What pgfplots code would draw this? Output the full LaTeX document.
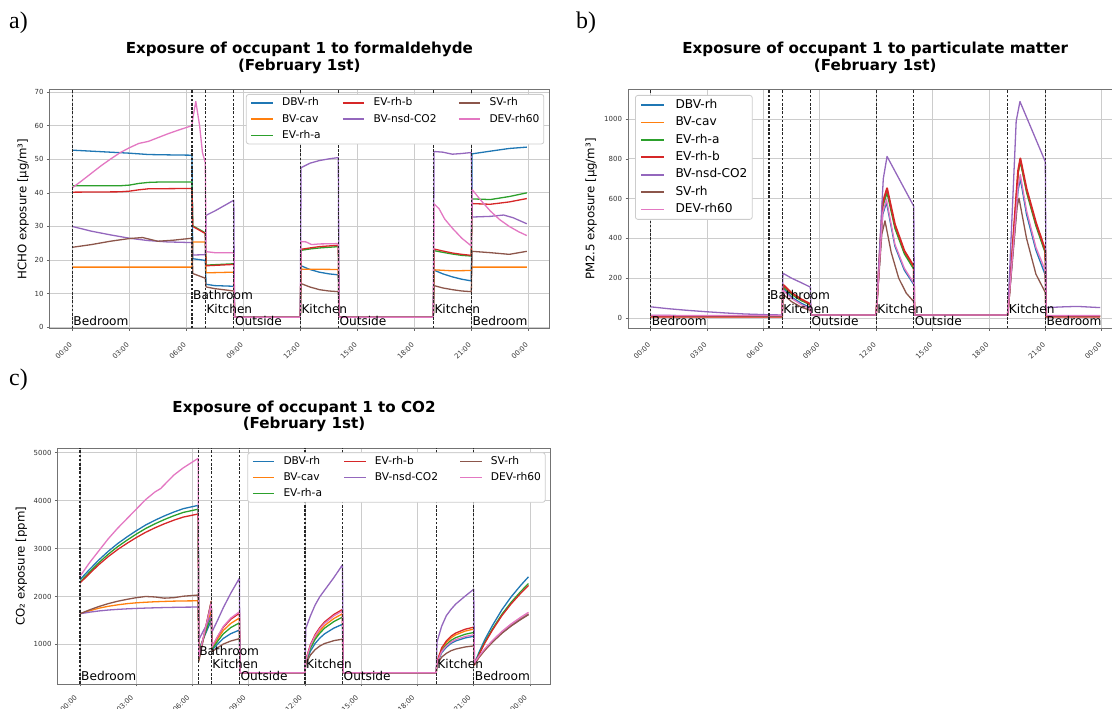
\documentclass[border=0pt]{standalone}
\usepackage{fontspec}
\setmainfont{DejaVu Sans}
\newfontfamily\serifpanel{Liberation Serif}
\usepackage{pgfplots}
\pgfplotsset{compat=1.18}

\definecolor{cA}{HTML}{1F77B4}
\definecolor{cB}{HTML}{FF7F0E}
\definecolor{cC}{HTML}{2CA02C}
\definecolor{cD}{HTML}{D62728}
\definecolor{cE}{HTML}{9467BD}
\definecolor{cF}{HTML}{8C564B}
\definecolor{cG}{HTML}{E377C2}

\tikzset{lab/.style={anchor=base west, inner sep=0pt, xshift=1bp, font=\fontsize{12.2}{13}\selectfont},
         vline/.style={black!85, line width=1.1bp, dash pattern=on 2.6bp off 1.6bp}}

\pgfplotsset{
  expo/.style={
    scale only axis,
    xmin=-1.2, xmax=25.1,
    xtick={0,3,...,24},
    xticklabels={00:00,03:00,06:00,09:00,12:00,15:00,18:00,21:00,00:00},
    tick pos=left,
    tick align=outside,
    major tick length=2.5bp,
    major tick style={black!60, line width=0.6bp},
    grid=major,
    major grid style={black!20, line width=0.8bp},
    axis line style={black!55, line width=1bp},
    tick label style={font=\fontsize{7}{8}\selectfont, text=black!80},
    /pgf/number format/assume math mode=true,
    /pgf/number format/1000 sep={},
    xticklabel style={yshift=-10.7bp, xshift=1bp, rotate=45, anchor=east},
    title style={font=\bfseries\fontsize{15.2}{16.8}\selectfont, align=center, anchor=south, inner sep=0pt, yshift=10bp},
    ylabel style={font=\fontsize{11.8}{13}\selectfont, anchor=center},
    legend image code/.code={\draw[#1] (0bp,0bp) -- (21.4bp,0bp);},
    every axis plot/.append style={line width=1.3bp, line join=round},
    clip=true,
  },
  leg3/.style={
    legend columns=3,
    legend cell align=left,
    legend style={at={(1,1)}, anchor=north east, xshift=-5bp, yshift=-4bp,
      font=\fontsize{10.7}{12}\selectfont, draw=black!20, line width=0.8bp,
      rounded corners=2.5bp, fill=white,
      inner xsep=4.3bp, inner ysep=3.5bp, row sep=6bp,
      nodes={inner sep=0pt, text height=8bp, text depth=2.2bp},
      /tikz/every odd column/.style={column sep=8.6bp},
      /tikz/every even column/.style={column sep=21.4bp}},
  },
}

\begin{document}
\begin{tikzpicture}

% ================= a) HCHO =================
\begin{axis}[expo, leg3, at={(49.5bp,380.7bp)}, anchor=south west,
  width=499.7bp, height=238.3bp,
  ymin=-0.3, ymax=70.6, ytick={0,10,...,70},
  title={Exposure of occupant 1 to formaldehyde\\(February 1st)},
  ylabel={HCHO exposure [µg/m³]},
  ylabel style={at={(axis description cs:-0.0526,0.5)}}]
\addplot[cA, forget plot] coordinates {(0,52.7)(1,52.4)(2,52.1)(3,51.8)(4,51.4)(5,51.3)(6.3,51.2)(6.34,20.4)(7,19.9)(7.04,12.8)(7.5,12.4)(8.5,12.2)(8.54,3)(12,3)(12.04,18.3)(12.5,17.2)(13,16.4)(13.5,15.9)(14,15.6)(14.04,3)(19,3)(19.04,17.0)(19.5,15.9)(20,15.0)(20.5,14.3)(21,13.8)(21.04,51.6)(22,52.4)(23,53.2)(23.92,53.6)};
\addplot[cB, forget plot] coordinates {(0,17.9)(6.3,17.9)(6.34,25.4)(7,25.4)(7.04,16.2)(8.5,16.4)(8.54,3)(12,3)(12.04,17.3)(14,17.2)(14.04,3)(19,3)(19.04,17.1)(20,16.8)(21,16.9)(21.04,17.9)(23.92,17.9)};
\addplot[cC, forget plot] coordinates {(0,42.1)(2.5,42.1)(3,42.3)(3.5,42.8)(4,43.1)(4.5,43.2)(6.3,43.2)(6.34,30.2)(7,28.1)(7.04,18.5)(8.5,18.9)(8.54,3)(12,3)(12.04,22.9)(12.5,23.3)(13,23.6)(13.5,23.8)(14,24.0)(14.04,3)(19,3)(19.04,22.8)(19.5,22.3)(20,21.8)(20.5,21.4)(21,21.2)(21.04,38.2)(22,38.0)(23,38.9)(23.92,40.0)};
\addplot[cD, forget plot] coordinates {(0,40.2)(2.5,40.3)(3,40.5)(3.5,40.9)(4,41.2)(6.3,41.3)(6.34,30.0)(7,27.9)(7.04,18.3)(8.5,18.7)(8.54,3)(12,3)(12.04,23.2)(12.5,23.6)(13,24.0)(13.5,24.2)(14,24.4)(14.04,3)(19,3)(19.04,23.3)(19.5,22.7)(20,22.1)(20.5,21.7)(21,21.4)(21.04,36.8)(22,36.6)(23,37.3)(23.92,38.3)};
\addplot[cE, forget plot] coordinates {(0,30.0)(1,28.6)(2,27.5)(3,26.5)(4,25.8)(5,25.4)(6.3,25.2)(6.34,21.5)(7,21.6)(7.04,33.3)(7.5,34.6)(8,36.2)(8.5,37.8)(8.54,3)(12,3)(12.04,47.5)(12.5,48.8)(13,49.6)(13.5,50.1)(14,50.5)(14.04,3)(19,3)(19.04,52.3)(19.5,52.1)(20,51.5)(20.5,51.7)(21,52.0)(21.04,32.8)(22,33.0)(22.7,33.4)(23.2,32.6)(23.92,30.8)};
\addplot[cF, forget plot] coordinates {(0,23.8)(1,24.6)(2,25.6)(3,26.4)(3.7,26.7)(4.5,25.6)(5.3,25.9)(6.3,26.5)(6.34,16.0)(7,14.6)(7.04,12.0)(7.5,11.5)(8.5,10.8)(8.54,3)(12,3)(12.04,13.0)(12.5,12.0)(13,11.2)(13.5,10.8)(14,10.6)(14.04,3)(19,3)(19.04,12.4)(19.5,11.7)(20,11.2)(20.5,10.8)(21,10.6)(21.04,22.6)(22,22.2)(23,21.7)(23.92,22.6)};
\addplot[cG, forget plot] coordinates {(0,41.5)(0.5,43.6)(1,45.8)(1.5,48.0)(2,50.0)(2.5,51.9)(3,53.4)(3.5,54.7)(4,55.3)(4.5,56.4)(5,57.5)(5.5,58.5)(6.3,60.0)(6.34,62)(6.5,67.2)(6.7,60)(6.85,52)(7,49)(7.04,22.5)(7.5,22.2)(8.5,22.2)(8.54,3)(12,3)(12.04,25.5)(12.3,25.4)(12.6,24.6)(13,24.8)(14,24.9)(14.04,3)(19,3)(19.04,36.7)(19.3,35.3)(19.6,32.2)(20,29.5)(20.5,26.5)(21,24.2)(21.04,41.0)(21.5,37.8)(22,34.6)(22.5,32.0)(23,30.0)(23.5,28.4)(23.92,27.3)};
\pgfplotsinvokeforeach{0,6.3,7,8.5,12,14,19,21}{\addplot[forget plot, vline] coordinates {(#1,-0.3)(#1,70.6)};}
\addlegendimage{draw=cA, line width=1.5bp}\addlegendentry{DBV-rh}
\addlegendimage{draw=cD, line width=1.5bp}\addlegendentry{EV-rh-b}
\addlegendimage{draw=cF, line width=1.5bp}\addlegendentry{SV-rh}
\addlegendimage{draw=cB, line width=1.5bp}\addlegendentry{BV-cav}
\addlegendimage{draw=cE, line width=1.5bp}\addlegendentry{BV-nsd-CO2}
\addlegendimage{draw=cG, line width=1.5bp}\addlegendentry{DEV-rh60}
\addlegendimage{draw=cC, line width=1.5bp}\addlegendentry{EV-rh-a}
\node[lab] at (axis cs:0,0.59) {Bedroom};
\node[lab] at (axis cs:6.3,8.12) {Bathroom};
\node[lab] at (axis cs:7,4.16) {Kitchen};
\node[lab] at (axis cs:8.5,0.59) {Outside};
\node[lab] at (axis cs:12,4.16) {Kitchen};
\node[lab] at (axis cs:14,0.59) {Outside};
\node[lab] at (axis cs:19,4.16) {Kitchen};
\node[lab] at (axis cs:21,0.59) {Bedroom};
\end{axis}

% ================= b) PM2.5 =================
\begin{axis}[expo, at={(628bp,380.7bp)}, anchor=south west,
  width=494.4bp, height=238.3bp,
  ymin=-52, ymax=1146, ytick={0,200,...,1000},
  title={Exposure of occupant 1 to particulate matter\\(February 1st)},
  ylabel={PM2.5 exposure [µg/m³]},
  ylabel style={at={(axis description cs:-0.0748,0.5)}},
  legend image code/.code={\draw[#1] (0bp,0bp) -- (23bp,0bp);},
  legend cell align=left,
  legend style={at={(0,1)}, anchor=north west, xshift=7bp, yshift=-5bp,
      font=\fontsize{12.2}{13}\selectfont, draw=black!20, line width=0.8bp,
      rounded corners=2.5bp, fill=white,
      inner xsep=4.9bp, inner ysep=4bp, row sep=5.8bp,
      nodes={inner sep=0pt, text height=9bp, text depth=2.6bp},
      /tikz/every odd column/.style={column sep=10bp}}]
\addplot[cA, forget plot] coordinates {(0,12)(6.3,10)(7,10)(7.04,150)(7.5,105)(8,75)(8.5,52)(8.54,15)(12,15)(12.35,520)(12.55,580)(13,360)(13.5,240)(14,168)(14.04,15)(19,15)(19.55,640)(19.67,700)(20,520)(20.5,340)(21,215)(21.04,10)(23.92,10)};
\addplot[cB, forget plot] coordinates {(0,6)(6.3,6)(7,6)(7.04,160)(7.5,120)(8,90)(8.5,68)(8.54,15)(12,15)(12.35,570)(12.58,640)(13,460)(13.5,330)(14,252)(14.04,15)(19,15)(19.55,730)(19.67,790)(20,640)(20.5,470)(21,332)(21.04,8)(23.92,8)};
\addplot[cC, forget plot] coordinates {(0,9)(6.3,9)(7,9)(7.04,158)(7.5,118)(8,88)(8.5,66)(8.54,15)(12,15)(12.35,560)(12.58,628)(13,450)(13.5,322)(14,245)(14.04,15)(19,15)(19.55,725)(19.67,785)(20,632)(20.5,462)(21,325)(21.04,9)(23.92,9)};
\addplot[cD, forget plot, line width=1.9bp] coordinates {(0,7)(6.3,7)(7,7)(7.04,168)(7.5,126)(8,95)(8.5,70)(8.54,15)(12,15)(12.35,580)(12.58,652)(13,470)(13.5,338)(14,260)(14.04,15)(19,15)(19.55,740)(19.67,802)(20,650)(20.5,480)(21,340)(21.04,7)(23.92,7)};
\addplot[cE, forget plot] coordinates {(0,56)(1,46)(2,38)(3,31)(4,25)(5,20)(6.3,16)(7,15)(7.04,225)(7.5,200)(8,178)(8.5,155)(8.54,15)(12,15)(12.38,700)(12.58,812)(14,562)(14.04,15)(19,15)(19.45,990)(19.65,1088)(21,785)(21.04,52)(22,56)(22.7,58)(23.92,52)};
\addplot[cF, forget plot] coordinates {(0,11)(6.3,9)(7,9)(7.04,120)(7.5,82)(8,55)(8.5,38)(8.54,15)(12,15)(12.3,420)(12.47,488)(12.8,330)(13.2,200)(13.6,125)(14,82)(14.04,15)(19,15)(19.5,560)(19.6,602)(20,400)(20.5,220)(21,128)(21.04,10)(23.92,10)};
\addplot[cG, forget plot] coordinates {(0,13)(6.3,12)(7,12)(7.04,140)(7.5,98)(8,68)(8.5,46)(8.54,15)(12,15)(12.35,530)(12.55,595)(13,370)(13.5,250)(14,175)(14.04,15)(19,15)(19.55,660)(19.67,720)(20,540)(20.5,355)(21,238)(21.04,12)(23.92,12)};
\pgfplotsinvokeforeach{0,6.3,7,8.5,12,14,19,21}{\addplot[forget plot, vline] coordinates {(#1,-52)(#1,1146)};}
\addlegendimage{draw=cA, line width=1.5bp}\addlegendentry{DBV-rh}
\addlegendimage{draw=cB, line width=1.5bp}\addlegendentry{BV-cav}
\addlegendimage{draw=cC, line width=1.5bp}\addlegendentry{EV-rh-a}
\addlegendimage{draw=cD, line width=2.2bp}\addlegendentry{EV-rh-b}
\addlegendimage{draw=cE, line width=1.5bp}\addlegendentry{BV-nsd-CO2}
\addlegendimage{draw=cF, line width=1.5bp}\addlegendentry{SV-rh}
\addlegendimage{draw=cG, line width=1.5bp}\addlegendentry{DEV-rh60}
\node[lab] at (axis cs:0,-36.9) {Bedroom};
\node[lab] at (axis cs:6.3,90.3) {Bathroom};
\node[lab] at (axis cs:7,23.4) {Kitchen};
\node[lab] at (axis cs:8.5,-36.9) {Outside};
\node[lab] at (axis cs:12,23.4) {Kitchen};
\node[lab] at (axis cs:14,-36.9) {Outside};
\node[lab] at (axis cs:19,23.4) {Kitchen};
\node[lab] at (axis cs:21,-36.9) {Bedroom};
\end{axis}

% ================= c) CO2 =================
\begin{axis}[expo, leg3, at={(57.5bp,25bp)}, anchor=south west,
  width=493.1bp, height=235.7bp,
  ymin=175, ymax=5090, ytick={1000,2000,...,5000},
  xticklabel style={yshift=4bp},
  title={Exposure of occupant 1 to CO2\\(February 1st)},
  ylabel={CO₂ exposure [ppm]},
  ylabel style={at={(axis description cs:-0.0732,0.5)}}]
\addplot[cA, forget plot] coordinates {(0,2350)(0.5,2560)(1,2760)(1.5,2940)(2,3100)(2.5,3240)(3,3370)(3.5,3490)(4,3590)(4.5,3680)(5,3760)(5.5,3830)(6.3,3900)(6.34,900)(7,1500)(7.04,880)(7.34,1006)(7.64,1124)(8.04,1224)(8.5,1300)(8.54,410)(12,410)(12.04,620)(12.29,860)(12.54,1020)(12.79,1132)(13.04,1220)(13.54,1340)(14,1420)(14.04,410)(19,410)(19.04,600)(19.29,828)(19.54,942)(19.79,1022)(20.04,1073)(20.54,1136)(21,1170)(21.04,600)(21.3,853)(21.6,1107)(22,1396)(22.5,1722)(23,1994)(23.5,2229)(23.92,2410)};
\addplot[cB, forget plot] coordinates {(0,1640)(0.5,1700)(1,1755)(1.5,1795)(2,1825)(2.5,1850)(3,1868)(3.5,1880)(4,1890)(4.5,1897)(5,1903)(5.5,1907)(6.3,1910)(6.34,800)(7,1700)(7.04,930)(7.34,1116)(7.64,1290)(8.04,1438)(8.5,1550)(8.54,410)(12,410)(12.04,650)(12.29,947)(12.54,1145)(12.79,1284)(13.04,1393)(13.54,1541)(14,1640)(14.04,410)(19,410)(19.04,620)(19.29,900)(19.54,1040)(19.79,1138)(20.04,1201)(20.54,1278)(21,1320)(21.04,590)(21.3,737)(21.6,884)(22,1052)(22.5,1241)(23,1399)(23.5,1535)(23.92,1640)};
\addplot[cC, forget plot] coordinates {(0,2300)(0.5,2505)(1,2703)(1.5,2879)(2,3036)(2.5,3172)(3,3300)(3.5,3417)(4,3516)(4.5,3604)(5,3683)(5.5,3752)(6.3,3820)(6.34,850)(7,1600)(7.04,900)(7.34,1065)(7.64,1219)(8.04,1351)(8.5,1450)(8.54,410)(12,410)(12.04,640)(12.29,919)(12.54,1105)(12.79,1235)(13.04,1338)(13.54,1477)(14,1570)(14.04,410)(19,410)(19.04,610)(19.29,866)(19.54,994)(19.79,1084)(20.04,1141)(20.54,1212)(21,1250)(21.04,580)(21.3,817)(21.6,1053)(22,1324)(22.5,1628)(23,1881)(23.5,2101)(23.92,2270)};
\addplot[cD, forget plot] coordinates {(0,2280)(0.5,2474)(1,2662)(1.5,2829)(2,2977)(2.5,3107)(3,3228)(3.5,3338)(4,3432)(4.5,3516)(5,3590)(5.5,3655)(6.3,3720)(6.34,700)(7,1900)(7.04,950)(7.34,1160)(7.64,1356)(8.04,1524)(8.5,1650)(8.54,410)(12,410)(12.04,680)(12.29,995)(12.54,1205)(12.79,1352)(13.04,1468)(13.54,1625)(14,1730)(14.04,410)(19,410)(19.04,640)(19.29,928)(19.54,1072)(19.79,1173)(20.04,1238)(20.54,1317)(21,1360)(21.04,570)(21.3,802)(21.6,1035)(22,1300)(22.5,1599)(23,1848)(23.5,2064)(23.92,2230)};
\addplot[cE, forget plot] coordinates {(0,1640)(0.5,1672)(1,1698)(1.5,1717)(2,1731)(2.5,1742)(3,1751)(3.5,1758)(4,1764)(4.5,1769)(5,1773)(5.5,1777)(6.3,1780)(6.34,1100)(7,1600)(7.04,1260)(7.34,1506)(7.64,1764)(8.04,2066)(8.5,2380)(8.54,410)(12,410)(12.04,1330)(12.29,1596)(12.54,1822)(12.79,1995)(13.04,2128)(13.54,2394)(14,2660)(14.04,410)(19,410)(19.04,1050)(19.29,1380)(19.54,1600)(19.79,1732)(20.04,1842)(20.54,2007)(21,2150)(21.04,600)(21.3,744)(21.6,888)(22,1053)(22.5,1239)(23,1393)(23.5,1527)(23.92,1630)};
\addplot[cF, forget plot] coordinates {(0,1640)(0.5,1720)(1,1790)(1.5,1850)(2,1900)(2.5,1940)(3,1975)(3.5,2000)(4,1990)(4.5,1965)(5,1975)(5.5,2005)(6.3,2030)(6.34,650)(7,1900)(7.04,850)(7.34,931)(7.64,1007)(8.04,1071)(8.5,1120)(8.54,410)(12,410)(12.04,600)(12.29,779)(12.54,891)(12.79,967)(13.04,1018)(13.54,1079)(14,1110)(14.04,410)(19,410)(19.04,580)(19.29,736)(19.54,814)(19.79,869)(20.04,904)(20.54,947)(21,970)(21.04,600)(21.3,743)(21.6,886)(22,1049)(22.5,1232)(23,1385)(23.5,1518)(23.92,1620)};
\addplot[cG, forget plot] coordinates {(0,2420)(0.5,2700)(1,2950)(1.5,3200)(2,3420)(2.5,3620)(3,3820)(3.5,4020)(4,4180)(4.3,4250)(5,4530)(5.5,4680)(6.3,4880)(6.34,750)(7,1850)(7.04,950)(7.34,1169)(7.64,1373)(8.04,1549)(8.5,1680)(8.54,410)(12,410)(12.04,660)(12.29,972)(12.54,1180)(12.79,1326)(13.04,1440)(13.54,1596)(14,1700)(14.04,410)(19,410)(19.04,620)(19.29,852)(19.54,968)(19.79,1049)(20.04,1101)(20.54,1165)(21,1200)(21.04,620)(21.3,767)(21.6,914)(22,1082)(22.5,1271)(23,1429)(23.5,1565)(23.92,1670)};
\pgfplotsinvokeforeach{0,6.3,7,8.5,12,14,19,21}{\addplot[forget plot, vline] coordinates {(#1,175)(#1,5090)};}
\addlegendimage{draw=cA, line width=1.5bp}\addlegendentry{DBV-rh}
\addlegendimage{draw=cD, line width=1.5bp}\addlegendentry{EV-rh-b}
\addlegendimage{draw=cF, line width=1.5bp}\addlegendentry{SV-rh}
\addlegendimage{draw=cB, line width=1.5bp}\addlegendentry{BV-cav}
\addlegendimage{draw=cE, line width=1.5bp}\addlegendentry{BV-nsd-CO2}
\addlegendimage{draw=cG, line width=1.5bp}\addlegendentry{DEV-rh60}
\addlegendimage{draw=cC, line width=1.5bp}\addlegendentry{EV-rh-a}
\node[lab] at (axis cs:0,237.6) {Bedroom};
\node[lab] at (axis cs:6.3,765) {Bathroom};
\node[lab] at (axis cs:7,487.8) {Kitchen};
\node[lab] at (axis cs:8.5,237.6) {Outside};
\node[lab] at (axis cs:12,487.8) {Kitchen};
\node[lab] at (axis cs:14,237.6) {Outside};
\node[lab] at (axis cs:19,487.8) {Kitchen};
\node[lab] at (axis cs:21,237.6) {Bedroom};
\end{axis}

\node[anchor=base west, inner sep=0pt, font=\serifpanel\fontsize{24}{24}\selectfont] at (9bp,680bp) {a)};
\node[anchor=base west, inner sep=0pt, font=\serifpanel\fontsize{24}{24}\selectfont] at (576bp,680bp) {b)};
\node[anchor=base west, inner sep=0pt, font=\serifpanel\fontsize{24}{24}\selectfont] at (9bp,323bp) {c)};

\pgfresetboundingbox
\useasboundingbox (0bp,0bp) rectangle (1112bp,709bp);
\end{tikzpicture}
\end{document}
